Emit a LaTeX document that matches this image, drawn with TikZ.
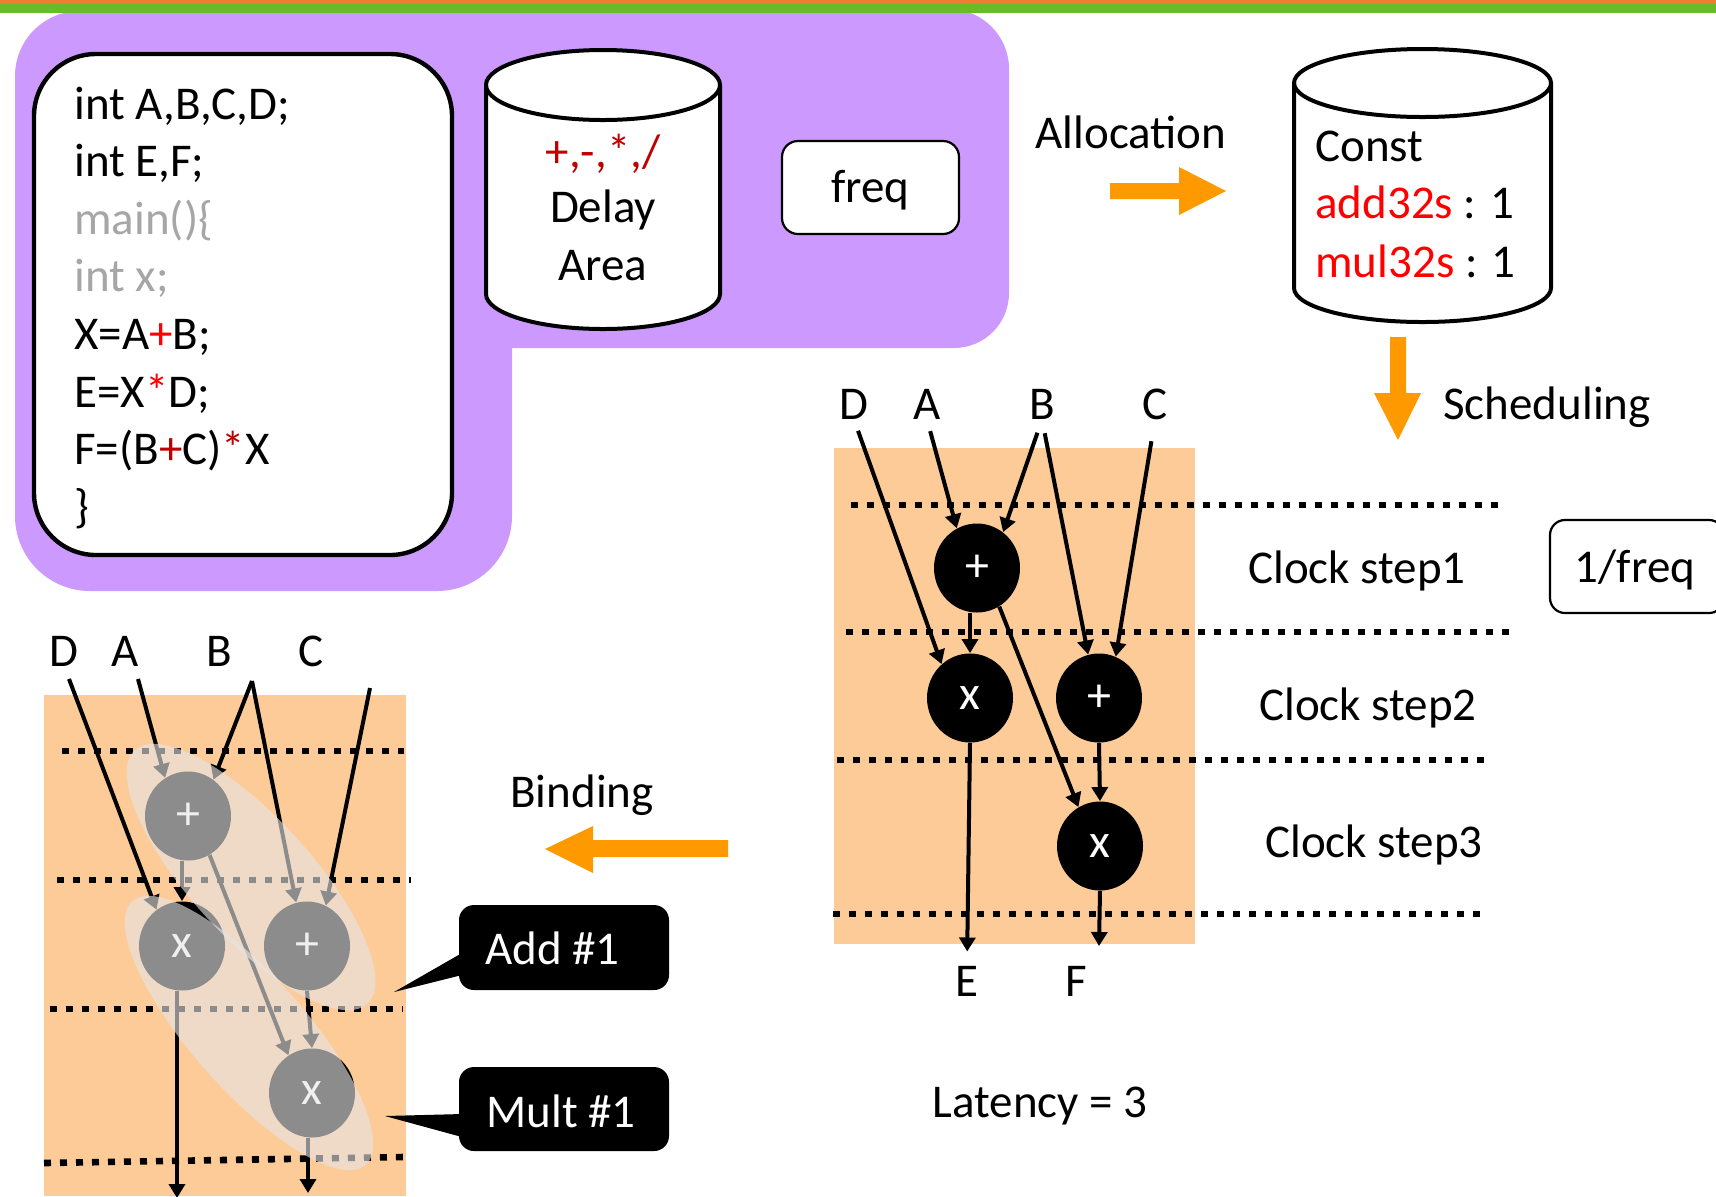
\documentclass[tikz,border=0pt]{standalone}
\usepackage{fontspec}
\setmainfont{Carlito}
\usetikzlibrary{arrows.meta,shapes.geometric,calc}
\definecolor{purp}{HTML}{CC99FF}
\definecolor{topor}{HTML}{ED7D31}
\definecolor{topgr}{HTML}{6BBB29}
\definecolor{blockor}{HTML}{FF9900}
\definecolor{lightor}{HTML}{FDCB98}
\definecolor{dred}{HTML}{C00000}
\definecolor{codegray}{HTML}{A6A6A6}
\definecolor{ovl}{HTML}{E5E5E5}
\begin{document}
\begin{tikzpicture}[x=0.5pt,y=-0.5pt,
  txt/.style={font=\fontsize{23.5pt}{28pt}\selectfont, inner sep=0pt, text height=15.1pt, text depth=0pt},
  opnode/.style={ellipse, fill=black, minimum width=43pt, minimum height=44.5pt, inner sep=0pt, text=white, font=\fontsize{24pt}{28pt}\selectfont},
  conn/.style={line width=2pt, -{Triangle[length=7pt,width=8pt]}},
  dotline/.style={line width=3.3pt, dash pattern=on 3.5pt off 4.5pt},
  cyl/.style={fill=white, draw=black, line width=2pt},
  blk/.style={fill=blockor},
  ovlay/.style={ellipse, fill=ovl, fill opacity=0.61, inner sep=0pt},
  callout/.style={fill=black, rounded corners=7.5pt, minimum width=105pt, inner sep=0pt},
]
\useasboundingbox (0,0) rectangle (1716,1196);
% purple panel
\fill[purp] (15,300) -- (15,76) arc[start angle=180,end angle=270,radius=65]
  -- (949,9) arc[start angle=270,end angle=360,radius=60]
  -- (1009,293) arc[start angle=0,end angle=90,radius=55]
  -- (512,348) -- (512,516) arc[start angle=0,end angle=90,radius=75]
  -- (90,591) arc[start angle=90,end angle=180,radius=75] -- cycle;
% top bars
\fill[topor] (0,0) rectangle (1716,4);
\fill[topgr] (0,4) rectangle (1716,13);
% code box
\node[draw, fill=white, line width=2.2pt, rounded corners=31pt, minimum width=209pt, minimum height=250.5pt, inner sep=0pt] (codebox) at (243,304.5) {};
\node[txt, anchor=west] (c1) at (74,104) {int A,B,C,D;};
\node[txt, anchor=west] (c2) at (74,161.6) {int E,F;};
\node[txt, anchor=west, text=codegray] (c3) at (74,219.2) {main()\{};
\node[txt, anchor=west, text=codegray] (c4) at (74,276.8) {int x;};
\node[txt, anchor=west] (c5) at (74,334.4) {X=A\textcolor{red}{+}B;};
\node[txt, anchor=west] (c6) at (74,392) {E=X\textcolor{red}{*}D;};
\node[txt, anchor=west] (c7) at (74,449.6) {F=(B\textcolor{dred}{+}C)\textcolor{dred}{*}X};
\node[txt, anchor=west] (c8) at (74,507.2) {\}};
% delay cylinder
\filldraw[cyl] (486,85) -- (486,294) arc[start angle=180,end angle=0,x radius=117,y radius=35]
  -- (720,85) arc[start angle=0,end angle=-180,x radius=117,y radius=35] -- cycle;
\draw[line width=2pt] (486,85) arc[start angle=180,end angle=0,x radius=117,y radius=35];
\node[txt, text=dred] (ops) at (603,152) {+,-,*,/};
\node[txt] (delay) at (603,207) {Delay};
\node[txt] (area) at (603,265) {Area};
% freq box
\node[txt, draw, fill=white, line width=1.1pt, rounded corners=8pt, minimum width=88.5pt, minimum height=46.5pt] (freq) at (870.5,187.5) {freq};
% allocation
\node[txt] (alloc) at (1131,133) {Allocation};
\fill[blk] (1110,183) -- (1179,183) -- (1179,167) -- (1226,191) -- (1179,215) -- (1179,199) -- (1110,199) -- cycle;
% const cylinder
\filldraw[cyl] (1294,83) -- (1294,288) arc[start angle=180,end angle=0,x radius=128.5,y radius=34]
  -- (1551,83) arc[start angle=0,end angle=-180,x radius=128.5,y radius=34] -- cycle;
\draw[line width=2pt] (1294,83) arc[start angle=180,end angle=0,x radius=128.5,y radius=34];
\node[txt, anchor=west] (const) at (1315,146) {Const};
\node[txt, anchor=west] (add) at (1315,203) {\textcolor{red}{add32s} : 1};
\node[txt, anchor=west] (mul) at (1315,262) {\textcolor{red}{mul32s} : 1};
% scheduling arrow
\fill[blk] (1390,337) -- (1406,337) -- (1406,393) -- (1421,393) -- (1398,440) -- (1374,393) -- (1390,393) -- cycle;
\node[txt, anchor=west] (sched) at (1443,404) {Scheduling};
% right diagram
\fill[lightor] (834,448) rectangle (1195,944);
\draw[dotline] (851,505) -- (1500,505);
\draw[dotline] (846,632) -- (1511,632);
\draw[dotline] (837,760) -- (1486,760);
\draw[dotline] (833,914) -- (1483,914);
\node[txt] (rD) at (854,404) {D};
\node[txt] (rA) at (927,404) {A};
\node[txt] (rB) at (1042,404) {B};
\node[txt] (rC) at (1155,404) {C};
\node[opnode] (rp1) at (977,568) {+};
\node[opnode] (rx1) at (970,698) {x};
\node[opnode] (rp2) at (1099,698) {+};
\node[opnode] (rx2) at (1100,846) {x};
\node[txt] (rE) at (967,981) {E};
\node[txt] (rF) at (1076,981) {F};
\coordinate (rFend) at (1099,946);
\draw[conn, shorten <=6pt] (rD.south) -- (rx1.130);
\draw[conn, shorten <=6pt] (rA.south) -- (rp1.117);
\draw[conn, shorten <=7pt] (rB.south) -- (rp1.54);
\draw[conn, shorten <=7pt] (rB.south) -- (rp2.104);
\draw[conn, shorten <=11pt] (rC.south) -- (rp2.68);
\draw[conn] (rp1.south -| rx1.north) -- (rx1.north);
\draw[conn] (rp1.-60) -- (rx2.119);
\draw[conn] (rp2.south) -- (rx2.north);
\draw[conn, shorten >=7pt] (rx1.south) -- (rE.north);
\draw[conn] (rx2.south) -- (rFend);
\node[txt] (cs1) at (1357,568) {Clock step1};
\node[txt] (cs2) at (1368,705) {Clock step2};
\node[txt] (cs3) at (1374,842) {Clock step3};
\node[draw, fill=white, line width=1.1pt, rounded corners=7.5pt, minimum width=87pt, minimum height=46.5pt, inner sep=0pt] (ifbox) at (1637,566.5) {};
\node[txt] (iftxt) at (1635,567.5) {1/freq};
\node[txt] (lat) at (1040,1102) {Latency = 3};
% binding arrow
\fill[blk] (728,840) -- (593,840) -- (593,826) -- (545,849) -- (593,873) -- (593,857) -- (728,857) -- cycle;
\node[txt] (bind) at (582,792) {Binding};
% left diagram
\fill[lightor] (44,695) rectangle (406,1196);
\draw[dotline] (62,751) -- (404,751);
\draw[dotline] (57,880) -- (411,880);
\draw[dotline] (50,1009) -- (403,1009);
\draw[dotline] (44,1163) -- (403,1157);
\node[txt] (lD) at (64,651) {D};
\node[txt] (lA) at (125,651) {A};
\node[txt] (lB) at (219,651) {B};
\node[txt] (lC) at (311,651) {C};
\node[opnode] (lp1) at (188,816) {+};
\node[opnode] (lx1) at (182,946) {x};
\node[opnode] (lp2) at (307,946) {+};
\node[opnode] (lx2) at (312,1093) {x};
\coordinate (sD) at (69,679);
\coordinate (sA) at (138,679);
\coordinate (sB) at (252,681);
\coordinate (sC) at (370,688);
\coordinate (eL1) at (177,1198);
\coordinate (eL2) at (308,1193);
\draw[conn] (sD) -- (lx1.125);
\draw[conn] (sA) -- (lp1.121);
\draw[conn] (sB) -- (lp1.55);
\draw[conn] (sB) -- (lp2.104);
\draw[conn] (sC) -- (lp2.65);
\draw[conn] (lp1.south -| lx1.north) -- (lx1.north);
\draw[conn] (lp1.-61) -- (lx2.122);
\draw[conn] (lp2.south) -- (lx2.north);
\draw[conn] (lx1.south -| eL1) -- (eL1);
\draw[conn] (lx2.south -| eL2) -- (eL2);
\node[ovlay, minimum width=172pt, minimum height=60pt, rotate=-47.5] (ov1) at (251,877) {};
\node[ovlay, minimum width=176pt, minimum height=57pt, rotate=-48.5] (ov2) at (249,1033) {};
% callouts
\node[callout, minimum height=42.5pt] (addbox) at (564,947.5) {};
\coordinate (addtip) at (394,992);
\fill (462,953) -- (addtip) -- (462,975) -- cycle;
\node[txt, text=white, anchor=west] (addtxt) at (485,949) {Add \#1};
\node[callout, minimum height=42pt] (multbox) at (564,1109) {};
\coordinate (multtip) at (385,1116);
\fill (462,1114) -- (multtip) -- (462,1137) -- cycle;
\node[txt, text=white, anchor=west] (multtxt) at (486,1112) {Mult \#1};
\end{tikzpicture}
\end{document}
